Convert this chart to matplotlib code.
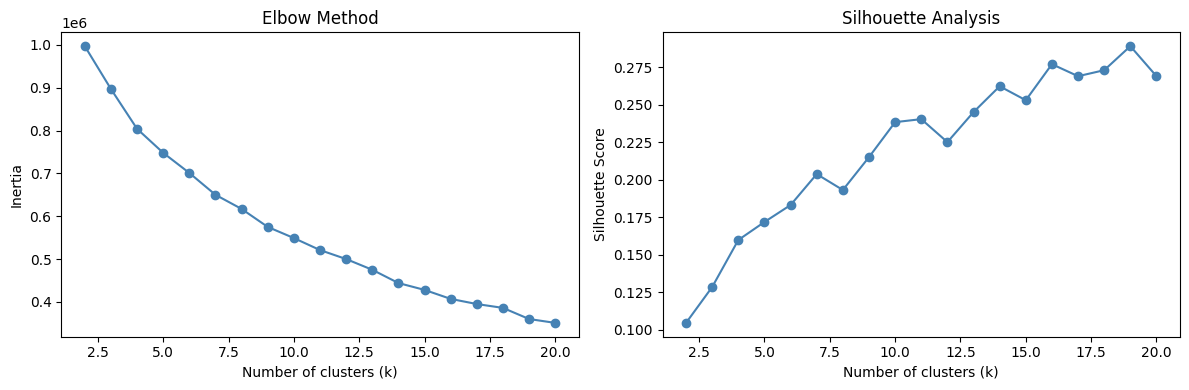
"""Elbow and silhouette plots for choosing the number of clusters."""

import matplotlib
matplotlib.use("Agg")
import matplotlib.pyplot as plt

K_VALUES = list(range(2, 21))
INERTIA = [
    997000, 897000, 804000, 748000, 701000, 650000, 617000, 575000, 549000,
    521000, 500000, 475000, 444000, 428000, 407000, 395000, 386000, 360000, 351000,
]
SILHOUETTE = [
    0.1047, 0.1286, 0.1599, 0.1719, 0.1832, 0.2038, 0.1932, 0.2151, 0.2384, 0.2404,
    0.2251, 0.2451, 0.2623, 0.2530, 0.2770, 0.2690, 0.2730, 0.2890, 0.2690,
]
COLOR = "steelblue"


def main() -> None:
    fig, (ax1, ax2) = plt.subplots(1, 2, figsize=(12, 4))

    ax1.plot(K_VALUES, INERTIA, marker="o", color=COLOR)
    ax1.set_title("Elbow Method")
    ax1.set_xlabel("Number of clusters (k)")
    ax1.set_ylabel("Inertia")

    ax2.plot(K_VALUES, SILHOUETTE, marker="o", color=COLOR)
    ax2.set_title("Silhouette Analysis")
    ax2.set_xlabel("Number of clusters (k)")
    ax2.set_ylabel("Silhouette Score")

    fig.tight_layout()
    fig.savefig("out.png", dpi=100, bbox_inches="tight")
    plt.close(fig)


if __name__ == "__main__":
    main()
